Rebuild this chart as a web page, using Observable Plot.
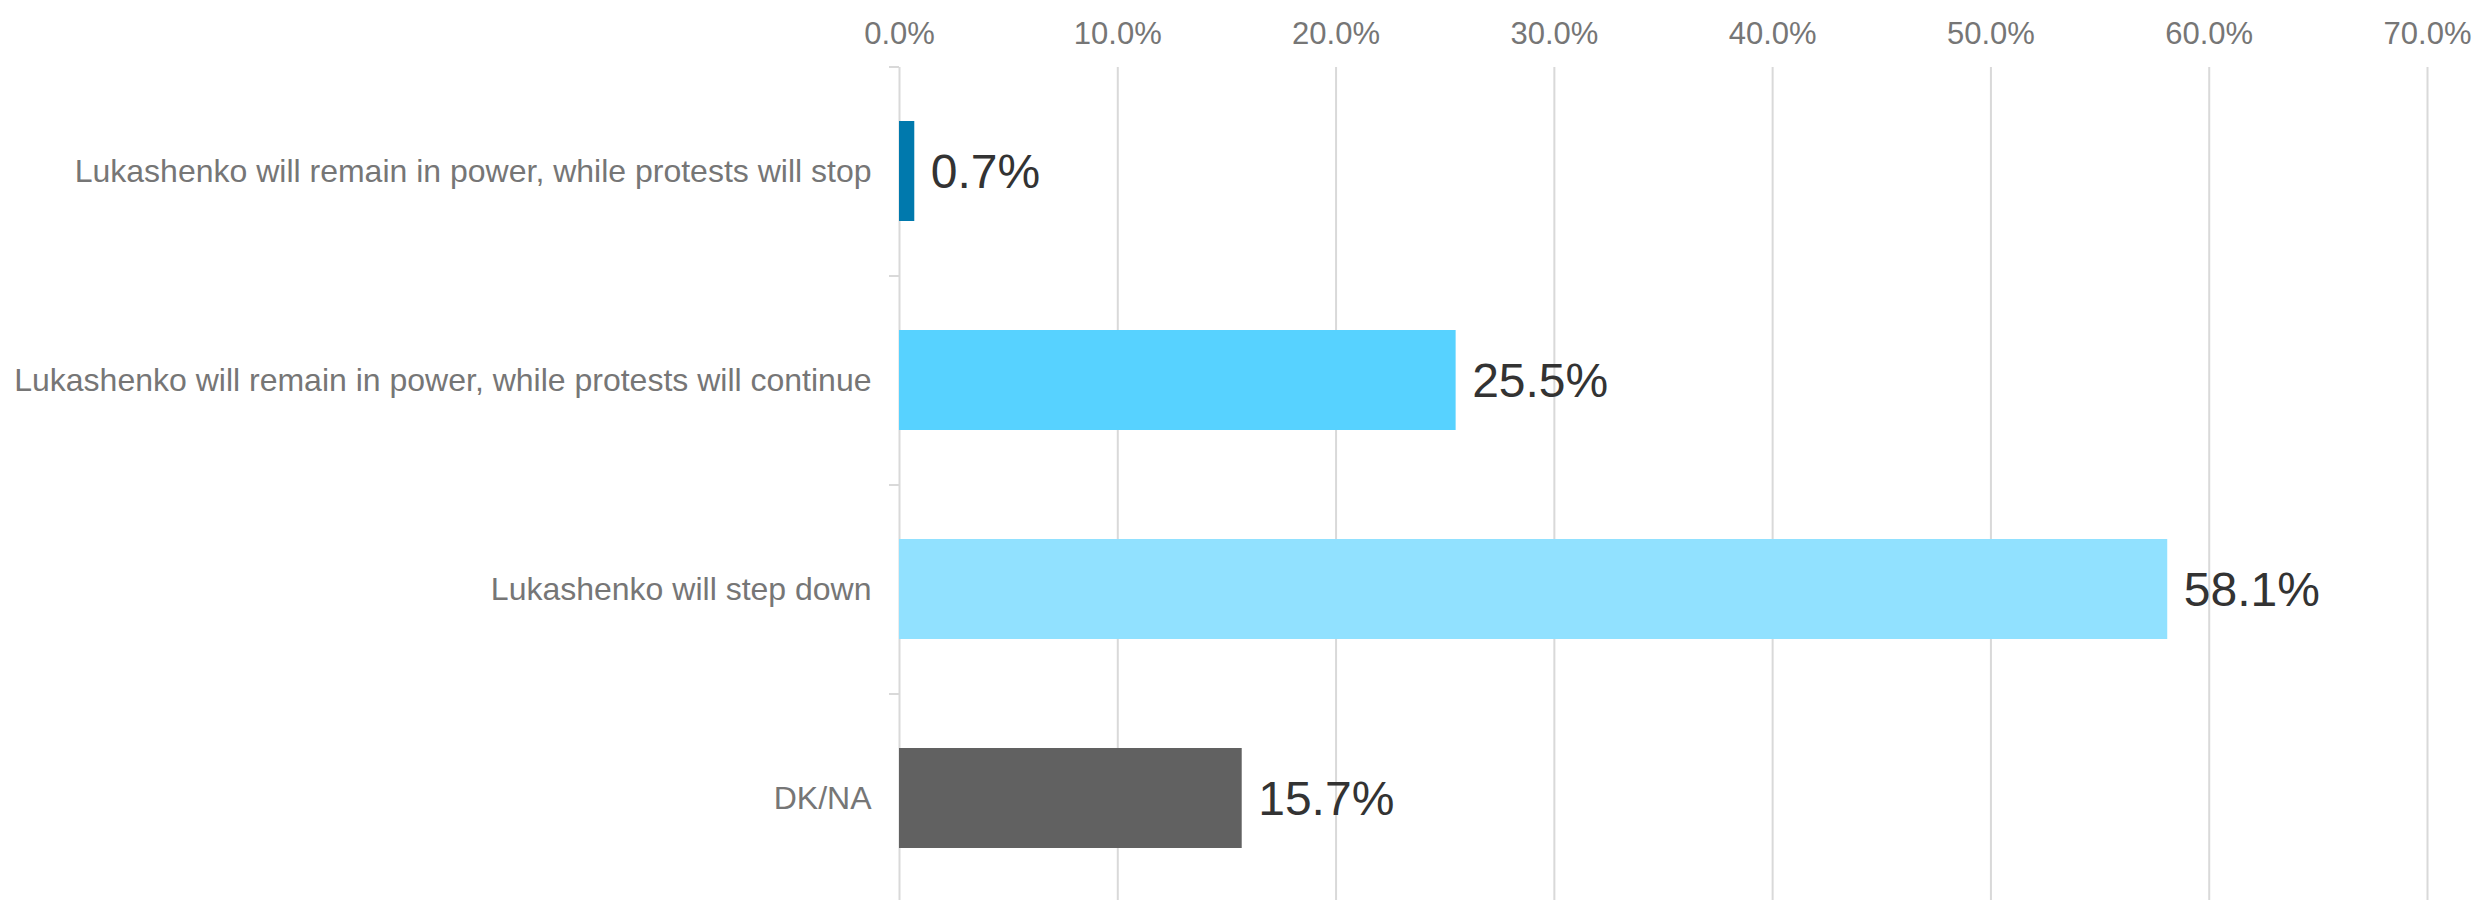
<!DOCTYPE html>
<html>
<head>
<meta charset="utf-8">
<script src="https://cdn.jsdelivr.net/npm/d3@7"></script>
<script src="https://cdn.jsdelivr.net/npm/@observablehq/plot@0.6"></script>
<style>
  html, body { margin: 0; padding: 0; background: #fff; overflow: hidden; }
  #chart svg { display: block; }
</style>
</head>
<body>
<div id="chart"></div>
<script>
const categories = [
  "Lukashenko will remain in power, while protests will stop",
  "Lukashenko will remain in power, while protests will continue",
  "Lukashenko will step down",
  "DK/NA"
];
const values = [0.7, 25.5, 58.1, 15.7];
const barColors = ["#0079AD", "#57D2FF", "#91E1FF", "#616161"];
const xTicks = [0, 10, 20, 30, 40, 50, 60, 70];

const data = categories.map((c, i) => ({category: c, value: values[i], color: barColors[i]}));
const fmt = d => d.toFixed(1) + "%";

const chart = Plot.plot({
  width: 2479,
  height: 900,
  marginLeft: 899,
  marginRight: 52,
  marginTop: 67,
  marginBottom: 0,
  style: {fontFamily: "'Liberation Sans', Arial, sans-serif", background: "#fff"},
  x: {domain: [0, 70], range: [899, 2427]},
  y: {domain: categories, range: [67, 903], paddingInner: 0.52, paddingOuter: 0.26, align: 0.5},
  marks: [
    Plot.gridX(xTicks, {stroke: "#d9d9d9", strokeOpacity: 1, strokeWidth: 2}),
    Plot.axisX({anchor: "top", ticks: xTicks, tickFormat: fmt, tickSize: 0, tickPadding: 24, fontSize: 31, fill: "#767676", label: null}),
    Plot.axisY({tickSize: 10, text: null, stroke: "#d9d9d9", strokeWidth: 2, dy: -104.5, label: null}),
    Plot.axisY({tickSize: 0, tickPadding: 28, fontSize: 32, fill: "#767676", label: null}),
    Plot.barX(data, {y: "category", x: "value", fill: "color"}),
    Plot.text(data, {y: "category", x: "value", text: d => fmt(d.value), dx: 16, dy: 1, textAnchor: "start", fontSize: 48, fill: "#333333"})
  ]
});
document.getElementById("chart").appendChild(chart);
</script>
</body>
</html>
